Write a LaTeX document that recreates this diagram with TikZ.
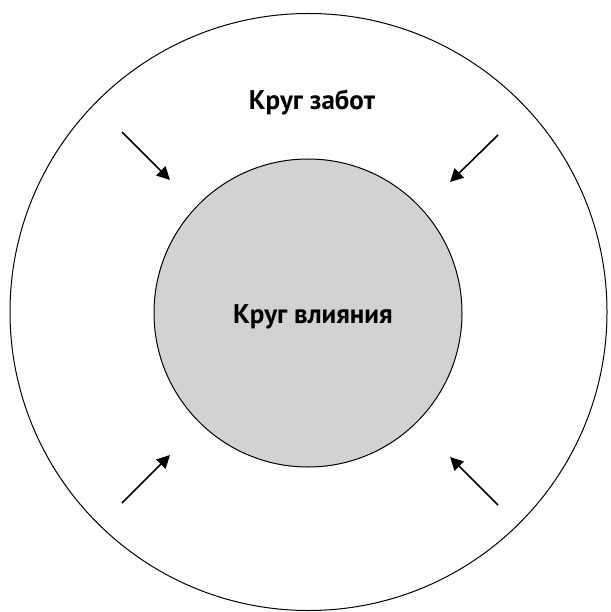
\documentclass[tikz,border=0pt]{standalone}
\usepackage{fontspec}
\setmainfont{PT Sans}
\usetikzlibrary{arrows.meta}
\tikzset{
  ring/.style={draw=black, line width=1pt},
  arr/.style={line width=1.6pt, -{Triangle[length=13pt,width=13pt]}},
  lbl/.style={font=\bfseries\fontsize{27}{30}\selectfont, inner sep=0pt}
}
\begin{document}
\begin{tikzpicture}[x=1pt,y=-1pt]
\useasboundingbox (0,0) rectangle (610,612);
\node[ring, circle, minimum size=597pt, inner sep=0pt] (outer) at (308.5,312) {};
\node[ring, circle, fill={rgb,255:red,210;green,210;blue,210}, minimum size=308pt, inner sep=0pt] (inner) at (308,313) {};
\node[lbl] (care) at (312,102) {Круг забот};
\node[lbl] (infl) at (313,317) {Круг влияния};
\coordinate (a1s) at (122,132); \coordinate (a1e) at (170,180);
\coordinate (a2s) at (498,135); \coordinate (a2e) at (450,182);
\coordinate (a3s) at (122,503); \coordinate (a3e) at (170,455);
\coordinate (a4s) at (498,505); \coordinate (a4e) at (450,457);
\draw[arr] (a1s) -- (a1e);
\draw[arr] (a2s) -- (a2e);
\draw[arr] (a3s) -- (a3e);
\draw[arr] (a4s) -- (a4e);
\end{tikzpicture}
\end{document}
